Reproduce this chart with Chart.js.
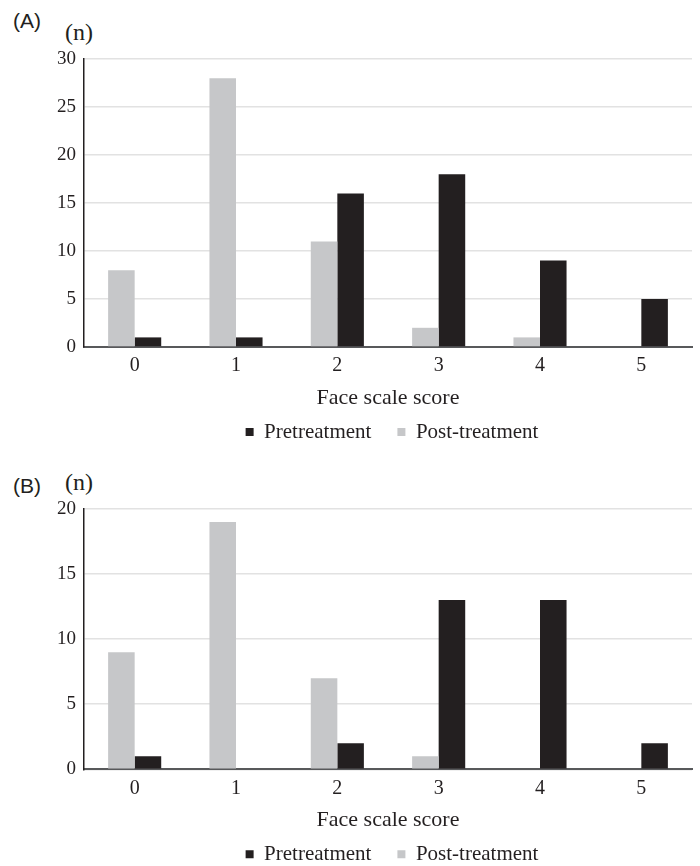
<!DOCTYPE html>
<html><head><meta charset="utf-8">
<script src="https://cdn.jsdelivr.net/npm/chart.js@4.4.0/dist/chart.umd.min.js"></script>
<style>
html,body{margin:0;padding:0;background:#fff;overflow:hidden;width:700px;height:866px;position:relative}
canvas{position:absolute;left:0}
.lab{position:absolute;white-space:nowrap;color:#231f20;line-height:1.2}
</style></head><body>
<div class="lab" style="left:13px;top:8px;font-family:'Liberation Sans',Arial,sans-serif;font-size:21px;">(A)</div>
<div class="lab" style="left:65px;top:18px;font-family:'Liberation Serif','Times New Roman',serif;font-size:24px;">(n)</div>
<div class="lab" style="left:13px;top:473px;font-family:'Liberation Sans',Arial,sans-serif;font-size:21px;">(B)</div>
<div class="lab" style="left:65px;top:468px;font-family:'Liberation Serif','Times New Roman',serif;font-size:24px;">(n)</div>
<canvas id="cA" width="700" height="445" style="top:0px"></canvas>
<canvas id="cB" width="700" height="421" style="top:445px"></canvas>
<script>
const categories = ['0', '1', '2', '3', '4', '5'];
const seriesNames = ['Pretreatment', 'Post-treatment'];
const xTitle = 'Face scale score';
const preA = [1, 1, 16, 18, 9, 5];
const postA = [8, 28, 11, 2, 1, 0];
const preB = [1, 0, 2, 13, 13, 2];
const postB = [9, 19, 7, 1, 0, 0];
const yMaxA = 30;
const yMaxB = 20;
const yStep = 5;

const BLACK = '#231f20';
const GRAY = '#c6c7c9';
const SERIF = "'Liberation Serif', 'Times New Roman', serif";

const legendShift = {
  id: 'legendShift',
  afterLayout(chart) {
    if (chart.legend) { chart.legend.left += 4; chart.legend.right += 4; }
  }
};

function makeChart(id, pre, post, yMax, padTop, padBottom) {
  return new Chart(document.getElementById(id), {
    type: 'bar',
    data: {
      labels: categories,
      datasets: [
        { label: seriesNames[1], data: post, backgroundColor: GRAY, borderColor: GRAY, borderWidth: 0 },
        { label: seriesNames[0], data: pre, backgroundColor: BLACK, borderColor: BLACK, borderWidth: 0 }
      ]
    },
    plugins: [legendShift],
    options: {
      responsive: false,
      animation: false,
      devicePixelRatio: 1,
      categoryPercentage: 0.524,
      barPercentage: 1.0,
      layout: { padding: { left: 0, right: 8, top: padTop, bottom: padBottom } },
      plugins: {
        tooltip: { enabled: false },
        legend: {
          position: 'bottom',
          fullSize: false,
          maxHeight: 46,
          labels: {
            font: { family: SERIF, size: 21 },
            color: BLACK,
            boxWidth: 8,
            boxHeight: 8,
            padding: 26,
            sort: (a, b) => b.datasetIndex - a.datasetIndex
          }
        }
      },
      scales: {
        x: {
          grid: { display: false, drawTicks: false },
          border: { display: true, color: '#58595b', width: 2 },
          ticks: { font: { family: SERIF, size: 20 }, color: BLACK, padding: 7 },
          title: {
            display: true, text: xTitle, color: BLACK,
            font: { family: SERIF, size: 22 },
            padding: { top: 0, bottom: -15.7 }
          },
          afterFit: (s) => { s.height = 48.5; }
        },
        y: {
          min: 0, max: yMax,
          grid: { color: '#e2e2e2', lineWidth: 1.5, drawTicks: false },
          border: { display: true, color: BLACK, width: 1.5 },
          ticks: { stepSize: yStep, font: { family: SERIF, size: 19 }, color: BLACK, padding: 8 },
          afterFit: (s) => { s.width = 84; }
        }
      }
    }
  });
}

makeChart('cA', preA, postA, yMaxA, 59, 3.5);
makeChart('cB', preB, postB, yMaxB, 64, 2.2);
</script>
</body></html>
